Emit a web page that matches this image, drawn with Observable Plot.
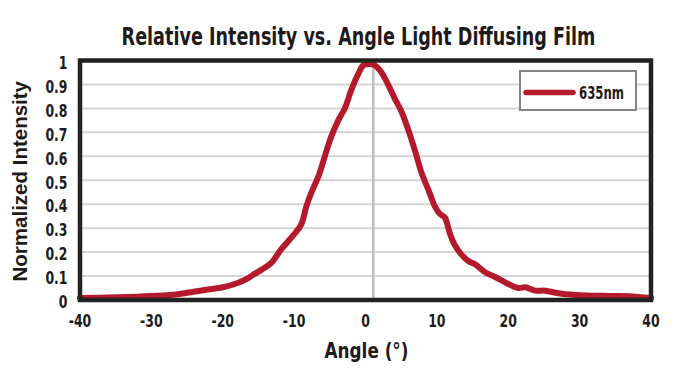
<!DOCTYPE html>
<html>
<head>
<meta charset="utf-8">
<script src="https://cdn.jsdelivr.net/npm/d3@7"></script>
<script src="https://cdn.jsdelivr.net/npm/@observablehq/plot@0.6"></script>
<style>
  html, body { margin: 0; padding: 0; background: #fff; }
  #wrap { position: relative; width: 675px; height: 392px; }
  #legend { position: absolute; left: 519px; top: 70px; width: 114px; height: 37px;
    border: 2px solid #858585; background: #fff; box-sizing: content-box; }
  #legend svg { position: absolute; left: 0; top: 0; }
</style>
</head>
<body>
<div id="wrap"></div>
<script>
// ---- data ----
const angles = [-40, -35, -32, -30, -27, -25, -22.5, -20, -18, -16.5, -15.5, -14.4, -13.2, -11.8, -10.4, -9, -8.3, -7.6, -6.6, -5.7, -4.8, -3.8, -2.9, -2, -1, -0.3,
  0.5, 1.3, 2.25, 3.2, 4.1, 5.05, 6, 6.9, 7.86, 8.8, 9.7, 10.4, 11.1, 11.8, 12.4, 13.3, 14.4, 15.3, 16.8, 18.1, 20, 21.4, 22.4, 23.8, 25.2, 27, 29.4, 34.1, 36.9, 40];
const intensity = [0.008, 0.011, 0.014, 0.017, 0.022, 0.03, 0.042, 0.053, 0.07, 0.09, 0.11, 0.129, 0.155, 0.212, 0.26, 0.316, 0.39, 0.447, 0.516, 0.6, 0.682, 0.751, 0.80, 0.876, 0.945, 0.98,
  0.985, 0.98, 0.95, 0.897, 0.841, 0.786, 0.71, 0.627, 0.53, 0.461, 0.392, 0.36, 0.345, 0.28, 0.235, 0.195, 0.163, 0.15, 0.115, 0.097, 0.067, 0.05, 0.053, 0.039, 0.039, 0.028, 0.021, 0.017, 0.016, 0.008];
const xTicks = [-40, -30, -20, -10, 0, 10, 20, 30, 40];
const yTicks = [0, 0.1, 0.2, 0.3, 0.4, 0.5, 0.6, 0.7, 0.8, 0.9, 1];
const yGrid = [0.1, 0.2, 0.3, 0.4, 0.5, 0.6, 0.7, 0.8, 0.9];
const centerLine = [1.1];
const seriesName = "635nm";
const titleText = "Relative Intensity vs. Angle Light Diffusing Film";
const xLabel = "Angle (°)";
const yLabel = "Normalized Intensity";

const data = angles.map((a, i) => ({angle: a, value: intensity[i]}));
const RED = "#b41a2c";
const INK = "#1e1a1b";
const NARROW = "'Liberation Sans Narrow','DejaVu Sans Condensed',sans-serif";

const chart = Plot.plot({
  width: 675,
  height: 392,
  marginLeft: 79.5,
  marginRight: 24.5,
  marginTop: 60,
  marginBottom: 92.5,
  style: {fontFamily: NARROW, fontWeight: "bold", color: INK, background: "#fff"},
  x: {domain: [-40, 40]},
  y: {domain: [0, 1]},
  marks: [
    Plot.gridY(yGrid, {stroke: "#d5d5d5", strokeWidth: 2, strokeOpacity: 1}),
    Plot.ruleX(centerLine, {stroke: "#bdbdbd", strokeWidth: 2.5}),
    Plot.line(data, {x: "angle", y: "value", stroke: RED, strokeWidth: 6, curve: "catmull-rom"}),
    Plot.frame({stroke: "#222", strokeWidth: 4.5}),
    Plot.axisX({ticks: xTicks, tickSize: 0, tickPadding: 14, fontSize: 18, label: null, tickFormat: d => String(d)}),
    Plot.axisY({ticks: yTicks, tickSize: 0, tickPadding: 12.5, fontSize: 18, label: null, dy: 2.5,
      tickFormat: d => String(+d.toFixed(1))}),
    Plot.text([titleText], {frameAnchor: "top", dy: -33, dx: -7, fontSize: 25, fontWeight: "bold", fill: INK}),
    Plot.text([xLabel], {frameAnchor: "bottom", dy: 57.5, dx: 1, fontSize: 21, fontWeight: "bold", fill: INK}),
    Plot.text([yLabel], {frameAnchor: "left", textAnchor: "middle", dx: -59.5, dy: 1, rotate: -90, fontSize: 20.5,
      fontWeight: "bold", fill: INK, fontFamily: "'Liberation Sans',Arial,sans-serif"})
  ]
});

const wrap = document.getElementById("wrap");
wrap.appendChild(chart);

// legend
const legend = document.createElement("div");
legend.id = "legend";
const ls = d3.create("svg").attr("width", 114).attr("height", 37);
ls.append("line").attr("x1", 5).attr("x2", 52).attr("y1", 20.5).attr("y2", 20.5)
  .attr("stroke", RED).attr("stroke-width", 5.5).attr("stroke-linecap", "round");
const lt = ls.append("text").attr("x", 0).attr("y", 0).text(seriesName)
  .attr("font-family", NARROW).attr("font-weight", "bold").attr("font-size", 17).attr("fill", INK);
legend.appendChild(ls.node());
wrap.appendChild(legend);

// horizontally condense a text element (scaled about its anchor point)
function condense(el, targetWidth) {
  const w = el.getComputedTextLength();
  const s = Math.min(1, targetWidth / w);
  const tr = el.getAttribute("transform") || "";
  el.setAttribute("transform", (tr + ` scale(${s},1)`).trim());
}
const tickSet = new Set([...xTicks.map(String), ...yTicks.map(d => String(+d.toFixed(1)))]);
d3.select(chart).selectAll("text").each(function() {
  const t = this.textContent;
  if (t === titleText) condense(this, 474);
  else if (t === xLabel) condense(this, 84);
  else if (tickSet.has(t)) condense(this, this.getComputedTextLength() * 0.77);
});
lt.attr("transform", "translate(58,26.5)");
condense(lt.node(), 45);
</script>
</body>
</html>
